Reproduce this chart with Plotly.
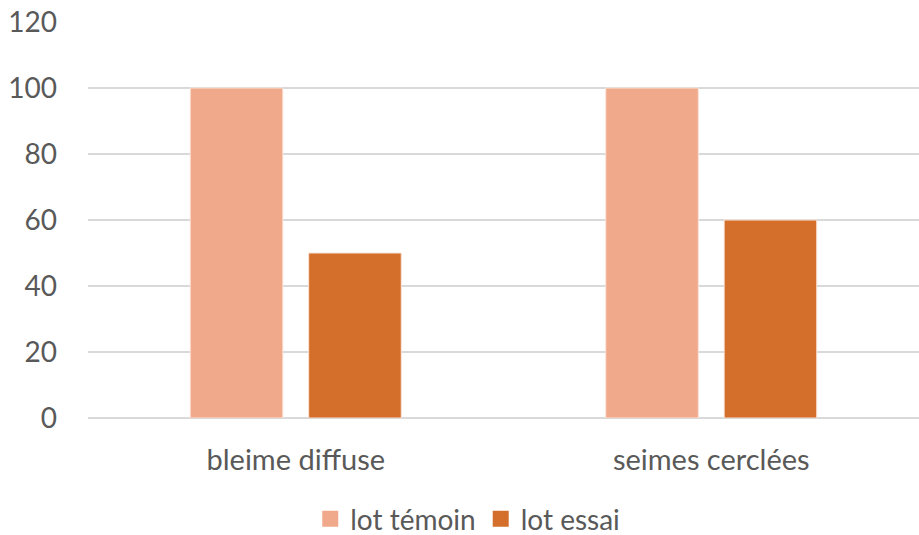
import plotly.graph_objects as go

categories = ["bleime diffuse", "seimes cerclées"]
lot_temoin = [100, 100]
lot_essai = [50, 60]
series_names = ["lot témoin", "lot essai"]
colors = ["#F0A98A", "#D36F2B"]

fig = go.Figure()
for name, vals, col in zip(series_names, [lot_temoin, lot_essai], colors):
    fig.add_trace(go.Bar(
        x=categories, y=vals, name=name, showlegend=False,
        marker=dict(color=col, line=dict(color="#FBE3D8", width=1)),
    ))
# legend entries with larger square swatches
for name, col in zip(series_names, colors):
    fig.add_trace(go.Scatter(
        x=[None], y=[None], mode="markers", name=name,
        marker=dict(symbol="square", size=20, color=col),
    ))

font_family = "Lato, 'Open Sans', sans-serif"
fig.update_layout(
    width=919, height=535,
    margin=dict(l=88, r=0, t=22, b=117, autoexpand=False),
    paper_bgcolor="white", plot_bgcolor="white",
    barmode="group", bargap=0.43, bargroupgap=0.218,
    font=dict(family=font_family, color="#595959", size=28),
    showlegend=True,
    legend=dict(orientation="h", x=0.457, xanchor="center", y=-0.255, yanchor="middle",
                font=dict(size=28, color="#595959"), itemwidth=30,
                tracegroupgap=0, traceorder="normal"),
    xaxis=dict(showgrid=False, showline=False, ticks="", ticklabelstandoff=22,
               automargin=False, tickfont=dict(size=29, color="#595959")),
    yaxis=dict(range=[0, 120], dtick=20, showgrid=True, gridcolor="#D9D9D9", gridwidth=1.5,
               zeroline=True, zerolinecolor="#D9D9D9", zerolinewidth=1.5,
               showline=False, ticks="", ticklabelstandoff=30, automargin=False,
               tickfont=dict(size=28, color="#595959")),
)

fig.write_html("out.html", config={"displayModeBar": False},
               post_script="document.body.style.margin='0';document.body.style.overflow='hidden';")
